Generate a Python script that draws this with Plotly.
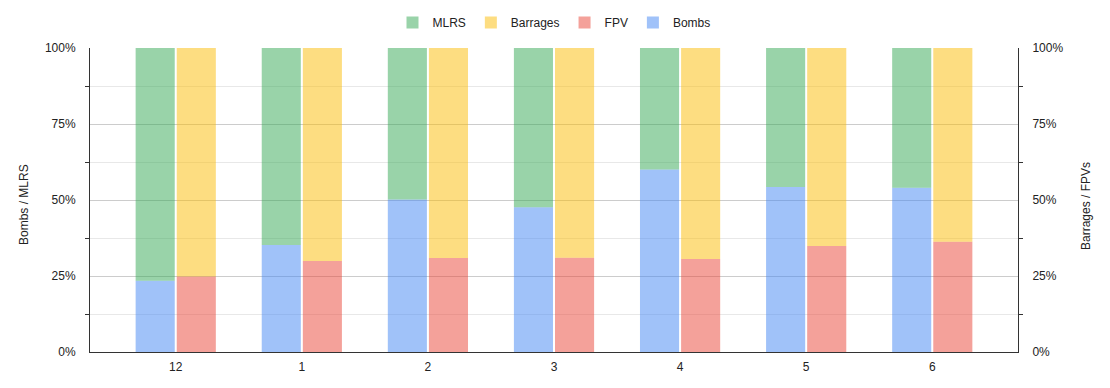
import plotly.graph_objects as go

months = ["12", "1", "2", "3", "4", "5", "6"]
bombs = [23.4, 35.2, 50.2, 47.6, 60.0, 54.3, 54.0]
mlrs = [100 - b for b in bombs]
fpv = [24.8, 29.9, 30.9, 31.0, 30.6, 34.9, 36.3]
barrages = [100 - f for f in fpv]

xi = list(range(len(months)))
W = 0.31
off_left = -0.318
off_right = 0.008

C_MLRS = "rgba(52,168,83,0.5)"
C_BAR = "rgba(251,188,4,0.5)"
C_FPV = "rgba(234,67,53,0.5)"
C_BOMB = "rgba(66,133,244,0.5)"

fig = go.Figure()
fig.add_trace(go.Bar(x=xi, y=bombs, name="Bombs", marker_color=C_BOMB, width=W, offset=off_left,
                     yaxis="y", legendrank=4, marker_line_width=0))
fig.add_trace(go.Bar(x=xi, y=mlrs, base=bombs, name="MLRS", marker_color=C_MLRS, width=W, offset=off_left,
                     yaxis="y", legendrank=1, marker_line_width=0))
fig.add_trace(go.Bar(x=xi, y=fpv, name="FPV", marker_color=C_FPV, width=W, offset=off_right,
                     yaxis="y2", legendrank=3, marker_line_width=0))
fig.add_trace(go.Bar(x=xi, y=barrages, base=fpv, name="Barrages", marker_color=C_BAR, width=W, offset=off_right,
                     yaxis="y2", legendrank=2, marker_line_width=0))

yax = dict(
    range=[0, 100], tickvals=[0, 25, 50, 75, 100], ticktext=["0%", "25%", "50%", "75%", "100%"],
    showgrid=True, gridcolor="#cccccc", gridwidth=1, zeroline=False,
    showline=True, linecolor="#333333", linewidth=1, ticks="",
    tickfont=dict(size=12, color="#222222"), ticklabelstandoff=11,
    minor=dict(tickvals=[12.5, 37.5, 62.5, 87.5], ticks="outside", ticklen=4, tickcolor="#333333",
               showgrid=True, gridcolor="#e8e8e8", gridwidth=1),
    fixedrange=True, automargin=False,
)

fig.update_layout(
    width=1110, height=388,
    margin=dict(l=90, r=92, t=48, b=36),
    paper_bgcolor="white", plot_bgcolor="white",
    font=dict(family="Liberation Sans, Arial, sans-serif", size=12, color="#222222"),
    barmode="overlay",
    showlegend=True,
    legend=dict(orientation="h", x=0.5, xanchor="center", y=(388 - 8) / 388, yanchor="top",
                yref="container", font=dict(size=12, color="#222222"),
                itemwidth=30, traceorder="normal"),
    xaxis=dict(tickvals=xi, ticktext=months, range=[-0.68, 6.68], showgrid=False,
               showline=True, linecolor="#333333", linewidth=1, ticks="", zeroline=False,
               tickfont=dict(size=12, color="#222222"), automargin=False, ticklabelstandoff=4,
               fixedrange=True),
    yaxis=yax,
    yaxis2=dict(**yax, overlaying="y", side="right"),
    annotations=[
        dict(text="Bombs / MLRS", x=24, y=205, xref="paper", yref="paper", showarrow=False,
             xanchor="center", yanchor="middle",
             textangle=-90, font=dict(size=12, color="#222222")),
        dict(text="Barrages / FPVs", x=1086, y=206, xref="paper", yref="paper", showarrow=False,
             xanchor="center", yanchor="middle",
             textangle=-90, font=dict(size=12, color="#222222")),
    ],
)
# place annotations in pixel coordinates via paper fractions
pw = 1110 - 90 - 92
ph = 388 - 48 - 36
for a in fig.layout.annotations:
    a.x = (a.x - 90) / pw
    a.y = (388 - 36 - a.y) / ph

fig.write_html("out.html", config={"displayModeBar": False},
               post_script="document.body.style.margin='0';document.body.style.overflow='hidden';")
